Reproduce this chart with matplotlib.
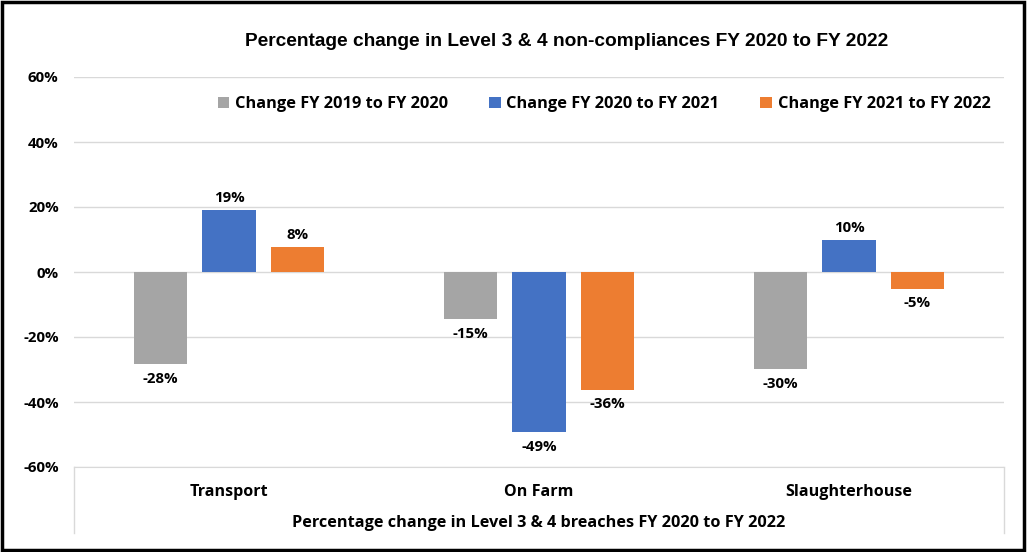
import numpy as np
import matplotlib
matplotlib.use("Agg")
import matplotlib.pyplot as plt
from matplotlib.patches import Rectangle

categories = ["Transport", "On Farm", "Slaughterhouse"]
series_names = ["Change FY 2019 to FY 2020", "Change FY 2020 to FY 2021", "Change FY 2021 to FY 2022"]
change_19_20 = [-28.4, -14.6, -29.8]
change_20_21 = [19.0, -49.2, 10.0]
change_21_22 = [7.7, -36.2, -5.1]
yticks = [-60, -40, -20, 0, 20, 40, 60]

colors = ["#A5A5A5", "#4472C4", "#ED7D31"]
font = "Open Sans"

fig = plt.figure(figsize=(10.27, 5.52), dpi=100)
ax = fig.add_axes([74 / 1027, 1 - 467 / 552, 930 / 1027, 390 / 552])

x = np.arange(len(categories))
width = 0.171
offset = 0.22
for i, (vals, name) in enumerate(zip([change_19_20, change_20_21, change_21_22], series_names)):
    pos = x + (i - 1) * offset
    ax.bar(pos, vals, width, color=colors[i], label=name, zorder=3)
    for p, v in zip(pos, vals):
        if v >= 0:
            ax.text(p, v + 1.5, f"{v:.0f}%", ha="center", va="bottom",
                    fontsize=10.8, fontweight="bold", family=font)
        else:
            ax.text(p, v - 2.4, f"{v:.0f}%", ha="center", va="top",
                    fontsize=10.8, fontweight="bold", family=font)

ax.set_xlim(-0.5, 2.5)
ax.set_ylim(-60, 60)
ax.set_yticks(yticks)
ax.set_yticklabels([f"{t}%" for t in yticks], fontsize=10.8, fontweight="bold", family=font)
ax.yaxis.grid(True, color="#D9D9D9", linewidth=1, zorder=0)
ax.tick_params(axis="y", length=0, pad=11)
ax.tick_params(axis="x", length=0, pad=12)
ax.set_xticks(x)
ax.set_xticklabels(categories, fontsize=11.6, fontweight="bold", family=font)
for s in ["top", "right", "left"]:
    ax.spines[s].set_visible(False)
ax.spines["bottom"].set_color("#D9D9D9")

# side lines of the category axis box
for xx in [0, 1]:
    ax.plot([xx, xx], [0, -0.17], transform=ax.transAxes, color="#D9D9D9",
            linewidth=1, clip_on=False)

ax.set_xlabel("Percentage change in Level 3 & 4 breaches FY 2020 to FY 2022",
              fontsize=11.7, fontweight="bold", family=font, labelpad=11)

fig.text(0.552, 1 - 42 / 552, "Percentage change in Level 3 & 4 non-compliances FY 2020 to FY 2022",
         ha="center", va="center", fontsize=13.8, fontweight="bold", family="Liberation Sans")

ax.legend(loc="center", bbox_to_anchor=(0.57, 0.93), ncol=3, frameon=False,
          prop={"family": font, "weight": "bold", "size": 11.8},
          handlelength=0.7, handleheight=0.7, handletextpad=0.35, columnspacing=2.5)

fig.add_artist(Rectangle((0.002, 0.003), 0.995, 0.994, transform=fig.transFigure,
                         fill=False, edgecolor="black", linewidth=2.5))

fig.savefig("out.png", dpi=100)
